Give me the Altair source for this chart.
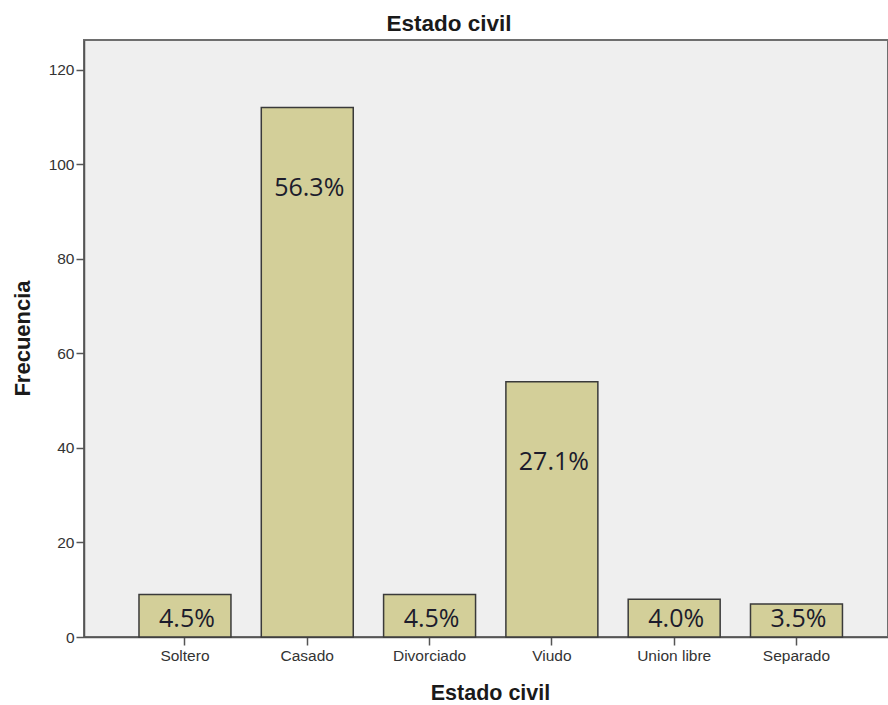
import altair as alt
import pandas as pd

# Frequencies by marital status
categorias = ["Soltero", "Casado", "Divorciado", "Viudo", "Union libre", "Separado"]
frecuencias = [9, 112, 9, 54, 8, 7]
porcentajes = ["4.5%", "56.3%", "4.5%", "27.1%", "4.0%", "3.5%"]

df = pd.DataFrame({"estado": categorias, "n": frecuencias, "pct": porcentajes})

x_enc = alt.X(
    "estado:N",
    sort=categorias,
    title="Estado civil",
    scale=alt.Scale(paddingInner=0.248, paddingOuter=0.411, align=0.547),
    axis=alt.Axis(
        labelAngle=0,
        labelFont="Liberation Sans",
        labelFontSize=15.5,
        labelColor="#333333",
        labelPadding=3,
        tickSize=8,
        tickColor="#555555",
        tickWidth=1.5,
        domainColor="#555555",
        domainWidth=1.5,
        titleFont="Liberation Sans",
        titleFontSize=21.5,
        titleFontWeight="bold",
        titleColor="#1a1a1a",
        titleBaseline="alphabetic",
        titleY=62,
        titleX=406,
    ),
)

y_scale = alt.Scale(domain=[0, 126.3], nice=False, zero=True)
y_axis = alt.Axis(
    values=[0, 20, 40, 60, 80, 100, 120],
    grid=False,
    labelFont="Liberation Sans",
    labelFontSize=15.5,
    labelColor="#333333",
    labelPadding=2,
    tickSize=8,
    tickColor="#555555",
    tickWidth=1.5,
    domainColor="#555555",
    domainWidth=1.5,
    titleFont="Liberation Sans",
    titleFontSize=22,
    titleFontWeight="bold",
    titleColor="#1a1a1a",
    titleX=-62,
    titleY=298,
    titleBaseline="middle",
)

bars = alt.Chart(df).mark_bar(
    color="#d3cf99", stroke="#3a3a3a", strokeWidth=1.5
).encode(
    x=x_enc,
    y=alt.Y("n:Q", scale=y_scale, axis=y_axis, title="Frecuencia"),
)

label_style = dict(
    font="Open Sans",
    fontSize=25,
    color="#1c1c2c",
    baseline="middle",
    align="center",
    dx=2,
)

# Percentages inside the tall bars, below the top edge
labels_tall = alt.Chart(df).transform_filter("datum.n > 20").mark_text(
    dy=80, **label_style
).encode(
    x=alt.X("estado:N", sort=categorias),
    y=alt.Y("n:Q", scale=y_scale),
    text="pct:N",
)

# Percentages inside the short bars, just above the baseline
labels_short = alt.Chart(df).transform_filter("datum.n <= 20").mark_text(
    dy=-18, **label_style
).encode(
    x=alt.X("estado:N", sort=categorias),
    y=alt.datum(0, scale=y_scale),
    text="pct:N",
)

chart = (
    alt.layer(bars, labels_tall, labels_short)
    .properties(
        width=804,
        height=597,
        autosize=alt.AutoSizeParams(type="none"),
        padding={"left": 84, "top": 40, "right": 0, "bottom": 68},
        background="white",
        title=alt.TitleParams(
            "Estado civil",
            font="Liberation Sans",
            fontSize=22.5,
            fontWeight="bold",
            color="#1a1a1a",
            anchor="middle",
            baseline="alphabetic",
            offset=11,
            dx=-37,
            dy=24,
        ),
    )
    .configure_view(fill="#efefef", stroke="#6e6e6e", strokeWidth=2)
)

chart.save("out.html", embed_options={"renderer": "svg", "actions": False})
